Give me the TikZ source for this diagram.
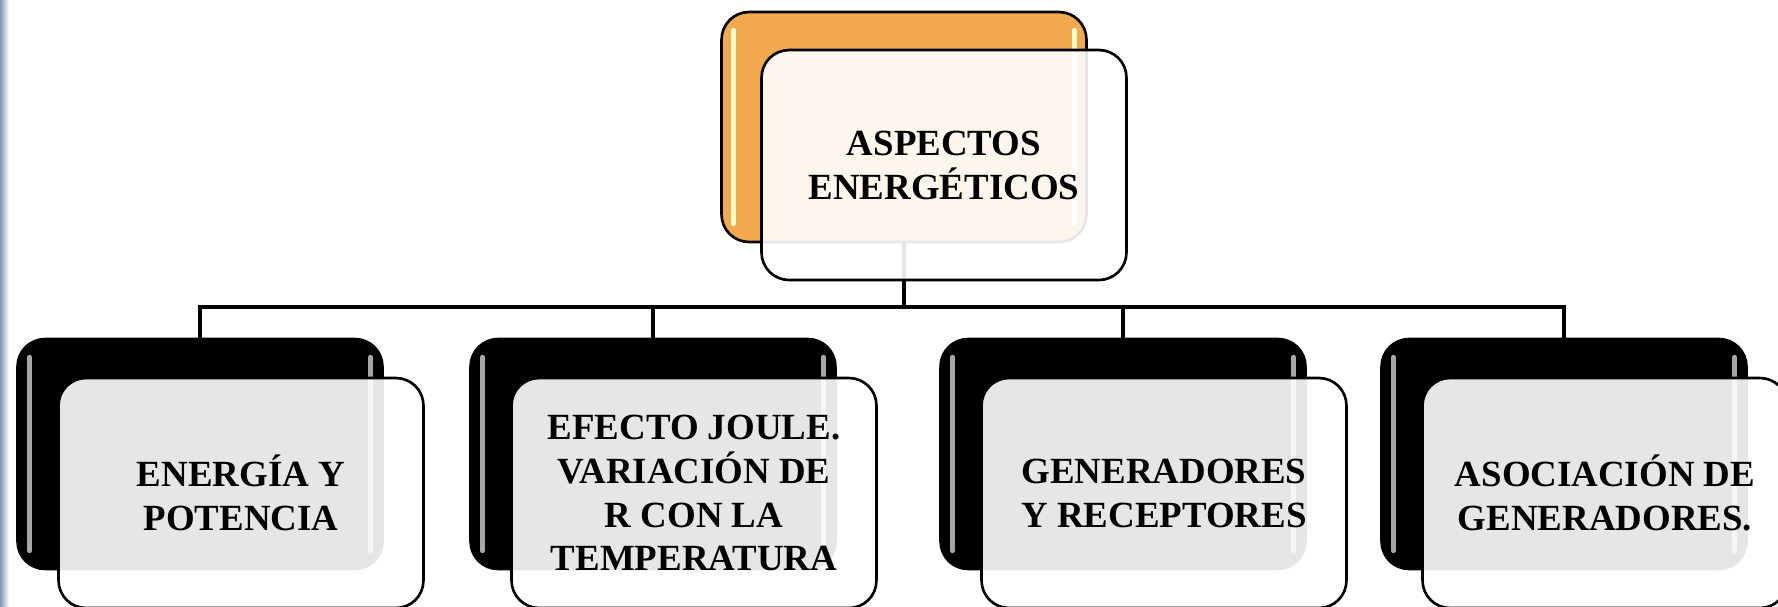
\documentclass[tikz,border=0pt]{standalone}
\usepackage{fontspec}
\setmainfont{Liberation Serif}
\usepackage{tikz}
\usetikzlibrary{calc,positioning}

\definecolor{boxorange}{RGB}{243,169,77}
\definecolor{stripblue}{RGB}{130,152,186}

\begin{document}
\begin{tikzpicture}[x=0.02cm, y=-0.02cm,
    back/.style={draw=black, line width=1.5pt, rounded corners=0.55cm,
      minimum width=7.3cm, minimum height=4.6cm, inner sep=0pt, outer sep=0pt},
    gloss/.style={path picture={
      \draw[#1, line width=2.5pt, line cap=round]
        ([shift={(12,18)}]path picture bounding box.north west) --
        ([shift={(12,-18)}]path picture bounding box.south west);
      \draw[#1, line width=2.5pt, line cap=round]
        ([shift={(-12,18)}]path picture bounding box.north east) --
        ([shift={(-12,-18)}]path picture bounding box.south east);}},
    front/.style={back, fill=white, fill opacity=0.9, text opacity=1,
      align=center, font=\bfseries\fontsize{21}{25}\selectfont},
    link/.style={line width=2.6pt}]
  \useasboundingbox (0,0) rectangle (1778,606);
  \clip (0,0) rectangle (1778,606);
  \shade[left color=stripblue, right color=white] (0,0) rectangle (9,606);

  % back boxes
  \node[back, fill=boxorange, gloss=yellow!20] (top) at (904,127) {};
  \node[back, fill=black, gloss=gray!70] (ener) at (200,454) {};
  \node[back, fill=black, gloss=gray!70] (joule) at (653,454) {};
  \node[back, fill=black, gloss=gray!70] (gene) at (1123,454) {};
  \node[back, fill=black, gloss=gray!70] (asoc) at (1564,454) {};

  % connectors
  \coordinate (bus) at (904,307);
  \draw[link] (top.south) -- (bus) -| (ener.north);
  \draw[link] (bus) -| (joule.north);
  \draw[link] (bus) -| (gene.north);
  \draw[link] (bus) -| (asoc.north);

  % front boxes
  \node[front] (topF) at ($(top)+(40,38)$) {ASPECTOS\\ENERGÉTICOS};
  \node[front] (enerF) at ($(ener)+(41,39)$) {ENERGÍA Y\\POTENCIA};
  \node[front] (jouleF) at ($(joule)+(41,39)$) {EFECTO JOULE.\\VARIACIÓN DE\\R CON LA\\TEMPERATURA};
  \node[front] (geneF) at ($(gene)+(41,39)$) {GENERADORES\\Y RECEPTORES};
  \node[front] (asocF) at ($(asoc)+(41,39)$) {ASOCIACIÓN DE\\GENERADORES.};
\end{tikzpicture}
\end{document}
